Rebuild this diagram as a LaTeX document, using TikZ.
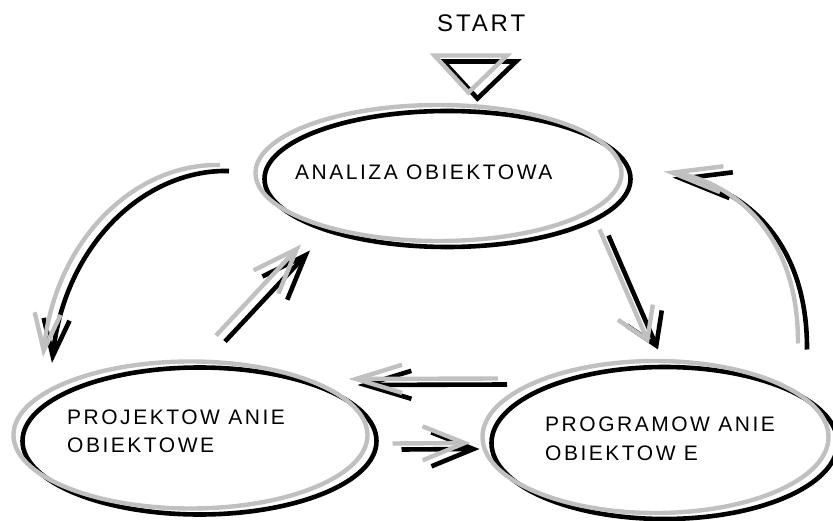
\documentclass[tikz,border=0pt]{standalone}
\usepackage{fontspec}
\setmainfont{Liberation Sans}
\usetikzlibrary{arrows.meta,shapes.geometric}

% Every outline is drawn twice: a black copy shifted down-right
% and a light grey copy shifted up-left, drawn on top.
\newcommand\duo[1]{%
  \draw[blk,transform canvas={shift={(4.5,3)}}] #1;
  \draw[gry,transform canvas={shift={(-4.5,-3)}}] #1;}

\begin{document}
\begin{tikzpicture}[x=1pt,y=-1pt,
  blk/.style={draw=black,line width=4.6pt},
  gry/.style={draw=lightgrey,line width=4.4pt},
  oval/.style={ellipse,inner sep=0pt},
  lbl/.style={inner sep=0pt,text=black,
    font=\fontsize{21}{25}\selectfont\addfontfeatures{LetterSpace=12}},
  barb/.style 2 args={-{Straight Barb[length=#1,width=#2]}}]
\definecolor{lightgrey}{RGB}{192,192,192}
\useasboundingbox (0,0) rectangle (833,521);

% the three activities
\node[oval,minimum width=366pt,minimum height=136pt] (ana)  at (443,176) {};
\node[oval,minimum width=354pt,minimum height=147pt] (proj) at (195,438) {};
\node[oval,minimum width=346pt,minimum height=152pt] (prog) at (660,440) {};

\duo{(ana.center)  ellipse [x radius=183,y radius=68]}
\duo{(proj.center) ellipse [x radius=177,y radius=73.5]}
\duo{(prog.center) ellipse [x radius=173,y radius=76]}

\node[lbl,anchor=base west] (anaT)  at (295,180) {ANALIZA OBIEKTOWA};
\node[lbl,anchor=base west] (projT) at (67,424)  {PROJEKTOW ANIE};
\node[lbl,anchor=base west] (projU) at (67,452)  {OBIEKTOWE};
\node[lbl,anchor=base west] (progT) at (545,431) {PROGRAMOW ANIE};
\node[lbl,anchor=base west] (progU) at (545,460) {OBIEKTOW E};

% start marker
\node[lbl,anchor=base west,font=\fontsize{24}{28}\selectfont\addfontfeatures{LetterSpace=12}]
  (start) at (437,32) {START};
\coordinate (t1) at (439,58.5);
\coordinate (t2) at (511.5,58.5);
\coordinate (t3) at (473,95.5);
\duo{[line join=miter] (t1) -- (t2) -- (t3) -- cycle}

% connector end points
\coordinate (b1) at (224.5,168);   \coordinate (b2) at (47.5,360);
\coordinate (c1) at (220.5,338.5); \coordinate (c2) at (305.5,247.5);
\coordinate (d1) at (604,232.5);   \coordinate (d2) at (653.5,346.5);
\coordinate (e1) at (802.5,346.5); \coordinate (e2) at (668,174.5);
\coordinate (f1) at (502.5,381.5); \coordinate (f2) at (353,382);
\coordinate (g1) at (397,446.5);   \coordinate (g2) at (475,446);

% analysis -> design
\duo{[barb={37pt}{26pt}] (b1) .. controls (140,166) and (60,242) .. (b2)}
% design -> analysis
\duo{[barb={45pt}{34pt}] (c1) -- (c2)}
% analysis -> programming
\duo{[barb={30pt}{38pt}] (d1) -- (d2)}
% programming -> analysis
\duo{[barb={50pt}{26pt}] (e1) .. controls (803,225) and (725,182) .. (e2)}
% programming -> design
\duo{[barb={46pt}{28pt}] (f1) -- (f2)}
% design -> programming
\duo{[barb={42pt}{34pt}] (g1) -- (g2)}
\end{tikzpicture}
\end{document}
